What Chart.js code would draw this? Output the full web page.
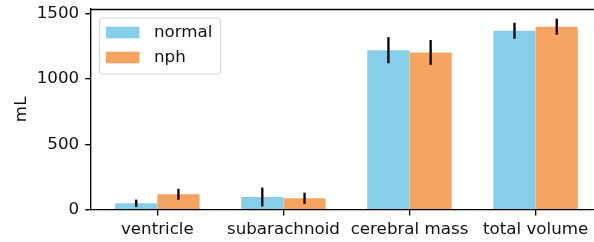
<!DOCTYPE html>
<html>
<head>
<meta charset="utf-8">
<script src="https://cdn.jsdelivr.net/npm/chart.js@4.4.0/dist/chart.umd.min.js"></script>
<style>
  html, body { margin: 0; padding: 0; background: #fff; }
  canvas { display: block; }
</style>
</head>
<body>
<canvas id="volumeChart" width="594" height="242"></canvas>
<script>
const categories = ['ventricle', 'subarachnoid', 'cerebral mass', 'total volume'];

const normal = [49, 97, 1219, 1368];
const nph = [118, 87, 1202, 1399];

const normalErr = [28, 72, 100, 61];
const nphErr = [42, 43, 95, 61];

const yTicks = [0, 500, 1000, 1500];

const FONT = { family: 'DejaVu Sans', size: 16.7 };
const LW = 1.33;

const toPoints = (vals) => vals.map((v, i) => ({ x: i, y: v }));

// error bars, drawn from the bar elements and the y scale
const errorBars = {
  id: 'errorBars',
  afterDatasetsDraw(chart) {
    const ctx = chart.ctx;
    const y = chart.scales.y;
    ctx.save();
    ctx.strokeStyle = '#000';
    ctx.lineWidth = 2.3;
    chart.data.datasets.forEach((ds, di) => {
      const meta = chart.getDatasetMeta(di);
      meta.data.forEach((bar, j) => {
        const v = ds.data[j].y;
        const e = ds.errors[j];
        ctx.beginPath();
        ctx.moveTo(bar.x, y.getPixelForValue(v - e));
        ctx.lineTo(bar.x, y.getPixelForValue(v + e));
        ctx.stroke();
      });
    });
    ctx.restore();
  },
};

// top spine + matplotlib style legend box
const frameAndLegend = {
  id: 'frameAndLegend',
  afterDraw(chart) {
    const ctx = chart.ctx;
    const area = chart.chartArea;
    ctx.save();
    ctx.strokeStyle = '#000';
    ctx.lineWidth = LW;
    ctx.beginPath();
    ctx.moveTo(area.left, area.top + 0.5);
    ctx.lineTo(area.right, area.top + 0.5);
    ctx.stroke();

    const x0 = 99.5, y0 = 18, w = 121, h = 56, r = 3.5;
    ctx.beginPath();
    ctx.roundRect(x0, y0, w, h, r);
    ctx.fillStyle = 'rgba(255,255,255,0.8)';
    ctx.fill();
    ctx.strokeStyle = '#d6d6d6';
    ctx.lineWidth = 1.2;
    ctx.stroke();

    ctx.font = `${FONT.size}px "${FONT.family}"`;
    ctx.textBaseline = 'middle';
    ctx.textAlign = 'left';
    chart.data.datasets.forEach((ds, i) => {
      const cy = 32.5 + i * 25;
      ctx.fillStyle = ds.backgroundColor;
      ctx.fillRect(106, cy - 5.8, 33.4, 11.6);
      ctx.fillStyle = '#111';
      ctx.fillText(ds.label, 154, cy + 0.5);
    });
    ctx.restore();
  },
};

new Chart(document.getElementById('volumeChart'), {
  type: 'bar',
  data: {
    datasets: [
      {
        label: 'normal',
        data: toPoints(normal),
        errors: normalErr,
        backgroundColor: '#87CEEB',
      },
      {
        label: 'nph',
        data: toPoints(nph),
        errors: nphErr,
        backgroundColor: '#F4A460',
      },
    ],
  },
  plugins: [errorBars, frameAndLegend],
  options: {
    responsive: false,
    devicePixelRatio: 1,
    animation: false,
    categoryPercentage: 0.67,
    barPercentage: 1,
    layout: { padding: { top: 9, right: 0, left: 0, bottom: 0 } },
    plugins: { legend: { display: false }, tooltip: { enabled: false } },
    scales: {
      x: {
        type: 'linear',
        min: -0.526,
        max: 3.463,
        offset: false,
        afterBuildTicks: (scale) => {
          scale.ticks = categories.map((_, i) => ({ value: i }));
        },
        afterFit: (scale) => {
          scale.height = 32.3;
          scale.paddingLeft = 0;
          scale.paddingRight = 0;
        },
        ticks: {
          callback: (v) => categories[v],
          font: FONT,
          color: '#111',
          padding: 4,
          maxRotation: 0,
          autoSkip: false,
        },
        grid: {
          offset: false,
          drawOnChartArea: false,
          tickLength: 5.8,
          color: '#000',
          lineWidth: LW,
        },
        border: { color: '#000', width: LW },
      },
      y: {
        min: 0,
        max: 1534,
        afterBuildTicks: (scale) => {
          scale.ticks = yTicks.map((v) => ({ value: v }));
        },
        afterFit: (scale) => {
          scale.width = 91;
          scale.paddingTop = 0;
          scale.paddingBottom = 0;
        },
        ticks: {
          callback: (v) => String(v),
          font: FONT,
          color: '#111',
          padding: 6,
        },
        title: {
          display: true,
          text: 'mL',
          font: FONT,
          color: '#111',
          padding: { top: 12, bottom: 0 },
        },
        grid: {
          drawOnChartArea: false,
          tickLength: 5.8,
          color: '#000',
          lineWidth: LW,
        },
        border: { color: '#000', width: LW },
      },
    },
  },
});
</script>
</body>
</html>
